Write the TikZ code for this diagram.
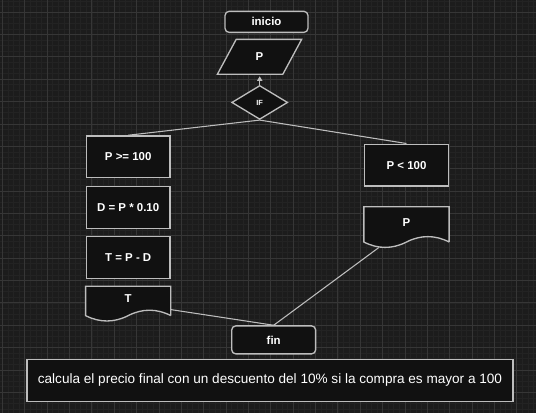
\documentclass[tikz,border=0pt]{standalone}
\usepackage{fontspec}
\setmainfont{Liberation Sans}
\usetikzlibrary{arrows.meta,shapes.geometric,calc}
\definecolor{bgcol}{HTML}{1C1C1C}
\definecolor{minorgrid}{HTML}{232323}
\definecolor{majorgrid}{HTML}{363636}
\definecolor{boxfill}{HTML}{111111}
\definecolor{edgecol}{HTML}{BDBDBD}

\begin{document}
\begin{tikzpicture}[x=0.75pt,y=-0.75pt,
    fcbase/.style={draw=edgecol,fill=boxfill,line width=1pt,text=white,inner sep=0pt,
      font=\bfseries\fontsize{8.6}{10}\selectfont},
    box/.style={fcbase,minimum width=63pt,minimum height=31.5pt},
    terminal/.style={fcbase,rounded corners=3pt,minimum width=63pt},
    doc/.style={fcbase,draw=none,fill=none,minimum width=63pt},
    link/.style={draw=edgecol,line width=0.8pt}]
    % fondo y cuadricula
    \fill[bgcol] (0,0) rectangle (536,413);
    \foreach \gx in {2,7.6,...,536} \draw[minorgrid,line width=0.5pt] (\gx,0) -- (\gx,413);
    \foreach \gy in {0.5,6.1,...,413} \draw[minorgrid,line width=0.5pt] (0,\gy) -- (536,\gy);
    \foreach \gx in {2,24.4,...,536} \draw[majorgrid,line width=0.6pt] (\gx,0) -- (\gx,413);
    \foreach \gy in {11.7,34.1,...,413} \draw[majorgrid,line width=0.6pt] (0,\gy) -- (536,\gy);
    \useasboundingbox (0,0) rectangle (536,413);

    % documentos (contorno con borde ondulado)
    \foreach \d/\t/\cx/\cy/\h in {docT/T/128/301/28,docP/P/406.7/224.3/34}{
      \node[doc,minimum height=0.75*\h pt] (\d) at (\cx,\cy) {};
      \draw[draw=edgecol,fill=boxfill,line width=1pt] (\d.south east) -- (\d.north east) -- (\d.north west) -- (\d.south west)
        .. controls ($(\d.south west)+(14,7.2)$) and ($(\d.south)+(-14,7.2)$) .. (\d.south)
        .. controls ($(\d.south)+(14,-7.2)$) and ($(\d.south east)+(-14,-7.2)$) .. (\d.south east);
      \node[text=white,font=\bfseries\fontsize{8.6}{10}\selectfont] at ([yshift=1.5pt]\d.center) {\t};
    }

    % nodos
    \node[terminal,minimum width=62.25pt,minimum height=15.75pt] (inicio) at (266.5,21.5) {inicio};
    \node[fcbase,trapezium,trapezium left angle=68.6,trapezium right angle=111.4,trapezium stretches=true,
          minimum width=63.3pt,minimum height=26.25pt] (leerP) at (259.5,56.5) {P};
    \node[fcbase,diamond,minimum width=42pt,minimum height=25.5pt,font=\bfseries\fontsize{5.6}{6}\selectfont] (cond) at (259.7,102.2) {IF};
    \node[box] (mayor) at (128,156.7) {P >= 100};
    \node[box] (desc) at (128,207.3) {D = P * 0.10};
    \node[box] (total) at (128,257.5) {T = P - D};
    \node[box] (menor) at (406.7,165) {P < 100};
    \node[terminal,minimum height=21pt] (fin) at (273.7,340) {fin};
    \node[fcbase,font=\fontsize{10.2}{12}\selectfont,minimum width=365pt,minimum height=31.7pt] (nota) at (270,380.5)
        {calcula el precio final con un descuento del 10\% si la compra es mayor a 100};

    % conectores
    \coordinate (salT) at ([yshift=4.5pt]docT.south east);
    \coordinate (salP) at ($(docP.south west)+(15,5.5)$);
    \draw[link,-{Triangle[width=4pt,length=3.5pt]}] (cond.north) -- ([yshift=-1pt]cond.north |- leerP.south);
    \draw[link] (cond.south) -- (mayor.north);
    \draw[link] (cond.south) -- (menor.north);
    \draw[link] (salT) -- (fin.north);
    \draw[link] (salP) -- (fin.north);
\end{tikzpicture}
\end{document}
